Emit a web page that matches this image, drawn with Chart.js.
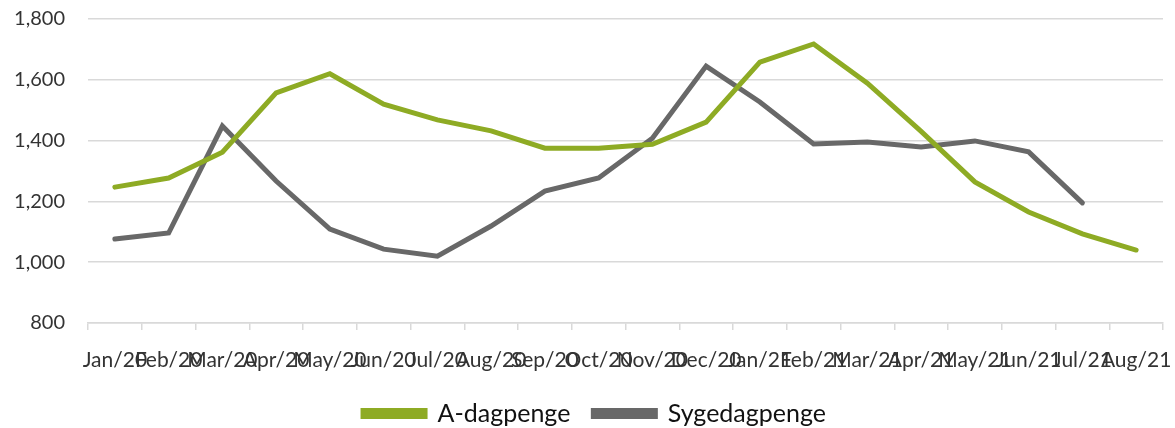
<!DOCTYPE html>
<html>
<head>
<meta charset="utf-8">
<script src="https://cdn.jsdelivr.net/npm/chart.js@4/dist/chart.umd.min.js"></script>
<style>
  body { margin: 0; background: #fff; }
  #wrap { width: 1175px; height: 428px; }
</style>
</head>
<body>
<div id="wrap"><canvas id="chart" width="1175" height="428"></canvas></div>
<script>
let months = ["Jan/20", "Feb/20", "Mar/20", "Apr/20", "May/20", "Jun/20", "Jul/20", "Aug/20", "Sep/20", "Oct/20",
    "Nov/20", "Dec/20", "Jan/21", "Feb/21", "Mar/21", "Apr/21", "May/21", "Jun/21", "Jul/21", "Aug/21"];

let aDagpenge = [1247, 1277, 1362, 1557, 1620, 1520, 1468, 1432, 1375, 1375,
    1388, 1461, 1658, 1718, 1589, 1430, 1264, 1165, 1093, 1040];

let sygedagpenge = [1076, 1096, 1448, 1267, 1109, 1043, 1020, 1119, 1234, 1277,
    1408, 1645, 1527, 1389, 1395, 1379, 1399, 1363, 1195, null];

let yTicks = [800, 1000, 1200, 1400, 1600, 1800];

let font = "Lato, 'Liberation Sans', sans-serif";
let green = "#8EAB24";
let grey = "#686868";

new Chart(document.getElementById("chart"), {
    type: "line",
    data: {
        labels: months,
        datasets: [{
            label: "A-dagpenge",
            data: aDagpenge,
            borderColor: green,
            backgroundColor: green,
            borderWidth: 5,
            pointRadius: 0,
            tension: 0,
            borderCapStyle: "round",
            fill: false
        }, {
            label: "Sygedagpenge",
            data: sygedagpenge,
            borderColor: grey,
            backgroundColor: grey,
            borderWidth: 5,
            pointRadius: 0,
            tension: 0,
            borderCapStyle: "round",
            fill: false
        }]
    },
    options: {
        responsive: false,
        animation: false,
        layout: { padding: { top: 0, right: 0, left: 14, bottom: 0 } },
        plugins: {
            tooltip: { enabled: false },
            legend: {
                position: "bottom",
                maxHeight: 50,
                labels: {
                    boxWidth: 62,
                    boxHeight: 6,
                    padding: 23,
                    color: "#111",
                    font: { family: font, size: 25 }
                }
            }
        },
        scales: {
            x: {
                offset: true,
                afterFit: a => {
                    a.height = 55;
                    a.paddingLeft = 0;
                    a.paddingRight = 12;
                },
                grid: {
                    offset: true,
                    drawOnChartArea: false,
                    drawTicks: true,
                    tickLength: 7,
                    color: "#d9d9d9",
                    lineWidth: 1.5
                },
                border: { color: "#d9d9d9", width: 1.5 },
                ticks: {
                    autoSkip: false,
                    maxRotation: 0,
                    minRotation: 0,
                    padding: 18,
                    color: "#333",
                    font: { family: font, size: 21 }
                }
            },
            y: {
                min: 800,
                max: 1800,
                afterBuildTicks: axis => {
                    axis.ticks = yTicks.map(v => ({ value: v }));
                },
                afterFit: a => {
                    a.width = 74;
                    a.paddingTop = 19;
                    a.paddingBottom = 0;
                },
                grid: {
                    color: "#d9d9d9",
                    lineWidth: 1.5,
                    drawTicks: false
                },
                border: { display: false },
                ticks: {
                    padding: 23,
                    color: "#333",
                    font: { family: font, size: 20 },
                    callback: v => v.toLocaleString("en-US")
                }
            }
        }
    }
});
</script>
</body>
</html>
